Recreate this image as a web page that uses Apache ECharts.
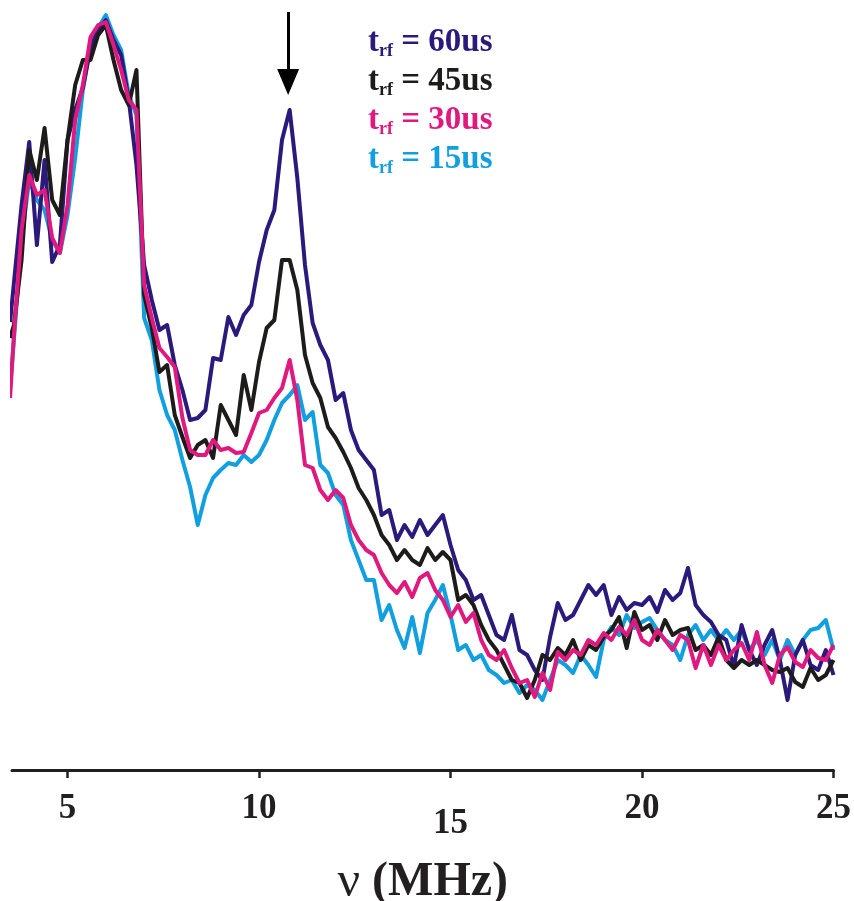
<!DOCTYPE html>
<html>
<head>
<meta charset="utf-8">
<title>rf pulse length spectra</title>
<script src="https://cdn.jsdelivr.net/npm/echarts@6.0.0/dist/echarts.min.js"></script>
<style>
  html, body { margin: 0; padding: 0; background: #fff; }
  #chart { width: 854px; height: 901px; }
</style>
</head>
<body>
<div id="chart"></div>
<script>
// frequency grid (MHz)
const freq = [3.5, 3.6, 3.8, 4.0, 4.2, 4.4, 4.6, 4.8, 5.0, 5.2, 5.4, 5.6, 5.8, 6.0, 6.2, 6.4, 6.6, 6.8,
  7.0, 7.2, 7.4, 7.6, 7.8, 8.0, 8.2, 8.4, 8.6, 8.8, 9.0, 9.2, 9.4, 9.6, 9.8, 10.0, 10.2, 10.4, 10.6, 10.8,
  11.0, 11.2, 11.4, 11.6, 11.8, 12.0, 12.2, 12.4, 12.6, 12.8, 13.0, 13.2, 13.4, 13.6, 13.8, 14.0, 14.2, 14.4,
  14.6, 14.8, 15.0, 15.2, 15.4, 15.6, 15.8, 16.0, 16.2, 16.4, 16.6, 16.8, 17.0, 17.2, 17.4, 17.6, 17.8, 18.0,
  18.2, 18.4, 18.6, 18.8, 19.0, 19.2, 19.4, 19.6, 19.8, 20.0, 20.2, 20.4, 20.6, 20.8, 21.0, 21.2, 21.4, 21.6,
  21.8, 22.0, 22.2, 22.4, 22.6, 22.8, 23.0, 23.2, 23.4, 23.6, 23.8, 24.0, 24.2, 24.4, 24.6, 24.8, 25.0];

// signal (arb. units) for each rf pulse length
const t60 = [448, 487, 565, 628, 525, 610, 508, 525, 630, 660, 682, 722, 740, 750, 730, 715, 670, 605,
  505, 470, 440, 445, 405, 380, 350, 352, 360, 412, 410, 453, 435, 455, 465, 508, 540, 560, 630, 660,
  592, 505, 447, 425, 410, 370, 377, 340, 320, 310, 300, 255, 260, 230, 245, 233, 250, 235,
  245, 255, 225, 200, 190, 170, 175, 155, 135, 130, 155, 120, 115, 100, 90, 133, 167, 150,
  155, 170, 185, 175, 185, 155, 173, 160, 167, 165, 173, 158, 180, 170, 177, 202, 165, 155,
  148, 135, 130, 103, 145, 120, 105, 125, 140, 110, 70, 115, 130, 105, 100, 120, 95];

const t45 = [432, 445, 510, 620, 590, 642, 570, 555, 630, 685, 710, 710, 735, 745, 710, 680, 665, 700,
  475, 442, 398, 405, 355, 333, 312, 325, 330, 312, 365, 350, 335, 395, 360, 408, 442, 450, 510, 510,
  480, 415, 387, 372, 343, 332, 318, 302, 282, 270, 255, 235, 225, 210, 220, 210, 205, 222,
  210, 218, 210, 170, 175, 165, 145, 130, 120, 105, 90, 87, 72, 90, 115, 110, 122, 115,
  130, 110, 125, 120, 133, 140, 153, 122, 158, 140, 145, 130, 150, 135, 140, 142, 120, 125,
  115, 133, 110, 102, 110, 105, 110, 105, 100, 98, 102, 88, 83, 102, 90, 95, 110];

const t30 = [372, 435, 540, 595, 575, 580, 532, 517, 565, 650, 685, 733, 745, 748, 725, 700, 670, 660,
  485, 452, 422, 413, 403, 352, 320, 315, 315, 330, 320, 322, 317, 318, 337, 357, 360, 372, 382, 410,
  370, 305, 302, 280, 270, 280, 272, 245, 230, 220, 215, 197, 185, 177, 188, 173, 192, 197,
  180, 170, 153, 165, 148, 157, 130, 115, 110, 120, 102, 87, 90, 73, 97, 80, 118, 110,
  120, 115, 130, 125, 137, 130, 143, 135, 150, 130, 125, 140, 130, 120, 135, 130, 102, 125,
  105, 125, 110, 120, 127, 110, 138, 105, 87, 115, 123, 108, 103, 120, 112, 110, 125];

const t15 = [383, 430, 530, 590, 570, 560, 530, 517, 555, 612, 680, 725, 742, 755, 735, 720, 675, 655,
  452, 430, 380, 355, 340, 310, 283, 245, 275, 292, 300, 307, 305, 315, 308, 315, 330, 350, 367, 375,
  385, 350, 358, 305, 297, 275, 265, 230, 210, 190, 190, 150, 165, 140, 122, 153, 117, 157,
  170, 185, 155, 120, 125, 110, 115, 100, 95, 87, 90, 77, 85, 80, 70, 90, 110, 105,
  97, 115, 105, 93, 130, 143, 135, 155, 142, 148, 152, 140, 130, 125, 110, 135, 145, 130,
  140, 130, 140, 130, 140, 120, 130, 115, 130, 110, 130, 115, 130, 140, 142, 150, 120];

const pulseLabels = ['60us', '45us', '30us', '15us'];
const pulseColors = ['#2b1a7c', '#1e1b1b', '#e0197f', '#129fdf'];
const xTicks = [5, 10, 15, 20, 25];
const arrowAt = 10.76;

const serif = "'Liberation Serif', 'DejaVu Serif', serif";
const ink = '#231f20';

const chart = echarts.init(document.getElementById('chart'), null, { renderer: 'canvas' });

const pair = (ys) => freq.map((f, i) => [f, ys[i]]);
const lineSeries = (name, ys, color, z) => ({
  name,
  type: 'line',
  data: pair(ys),
  showSymbol: false,
  smooth: false,
  z,
  lineStyle: { color, width: 4, join: 'round' },
  itemStyle: { color },
});

// blue at the bottom, pink on top
const series = [
  lineSeries(pulseLabels[3], t15, pulseColors[3], 2),
  lineSeries(pulseLabels[0], t60, pulseColors[0], 3),
  lineSeries(pulseLabels[1], t45, pulseColors[1], 4),
  lineSeries(pulseLabels[2], t30, pulseColors[2], 5),
];

// arrow pointing at the 60us peak
series[1].markLine = {
  silent: true,
  animation: false,
  symbol: ['none', 'triangle'],
  symbolSize: [22, 26],
  label: { show: false },
  lineStyle: { color: '#000', width: 3, type: 'solid' },
  data: [[{ coord: [arrowAt, 758] }, { coord: [arrowAt, 688] }]],
};

const option = {
  animation: false,
  backgroundColor: '#fff',
  grid: { left: 12, right: 20.5, top: 10, bottom: 131, outerBoundsMode: 'none', containLabel: false },
  legend: {
    orient: 'vertical',
    left: 357,
    top: 21,
    itemWidth: 0,
    itemHeight: 0,
    itemGap: 5,
    selectedMode: false,
    data: pulseLabels.map((n, i) => ({ name: n, textStyle: { color: pulseColors[i] } })),
    formatter: (name) => `{t|t}{sub|rf}{v| = ${name}}`,
    textStyle: {
      fontFamily: serif,
      fontWeight: 'bold',
      fontSize: 33,
      rich: {
        t: { fontFamily: serif, fontWeight: 'bold', fontSize: 33, lineHeight: 35, verticalAlign: 'top' },
        sub: { fontFamily: serif, fontWeight: 'bold', fontSize: 18, lineHeight: 19, padding: [16, 0, 0, 0], verticalAlign: 'top' },
        v: { fontFamily: serif, fontWeight: 'bold', fontSize: 33, lineHeight: 35, verticalAlign: 'top' },
      },
    },
  },
  xAxis: {
    type: 'value',
    min: 3.55,
    max: 25,
    name: '{nu|ν}{u| (MHz)}',
    nameLocation: 'middle',
    nameGap: 88,
    nameTextStyle: {
      fontFamily: serif,
      fontWeight: 'bold',
      fontSize: 48,
      color: ink,
      rich: {
        nu: { fontFamily: serif, fontWeight: 'normal', fontSize: 50, color: ink },
        u: { fontFamily: serif, fontWeight: 'bold', fontSize: 48, color: ink },
      },
    },
    axisLine: { show: true, lineStyle: { color: ink, width: 3 } },
    axisTick: { show: true, inside: false, length: 8, customValues: xTicks, lineStyle: { color: ink, width: 2.5 } },
    axisLabel: {
      customValues: xTicks,
      margin: 21,
      formatter: (v) => (v === 15 ? `{low|${v}}` : `{n|${v}}`),
      rich: {
        n: { fontFamily: serif, fontWeight: 'bold', fontSize: 35, color: ink },
        low: { fontFamily: serif, fontWeight: 'bold', fontSize: 35, color: ink, padding: [15, 0, 0, 0] },
      },
    },
    splitLine: { show: false },
  },
  yAxis: {
    type: 'value',
    min: 0,
    max: 760,
    show: false,
    splitLine: { show: false },
  },
  series,
};

chart.setOption(option);
window.addEventListener('resize', () => chart.resize());
</script>
</body>
</html>
